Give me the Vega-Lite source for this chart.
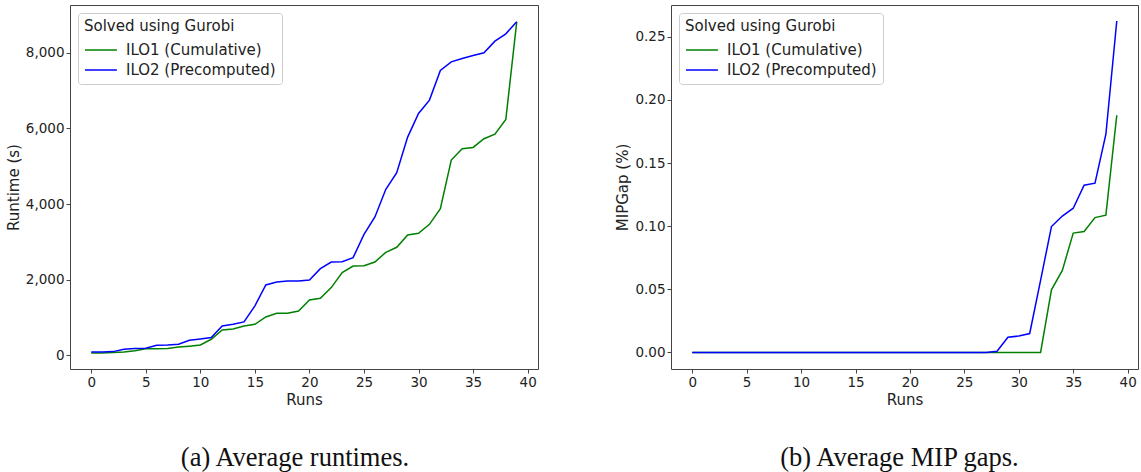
{
  "$schema": "https://vega.github.io/schema/vega-lite/v6.json",
  "autosize": {"type": "pad"},
  "padding": {"left": 5, "top": 4, "right": 0, "bottom": 0},
  "background": "white",
  "bounds": "flush",
  "spacing": 133,
  "config": {
    "font": "DejaVu Sans",
    "view": {"stroke": "#444444", "strokeWidth": 1},
    "axis": {
      "grid": false,
      "domain": false,
      "tickColor": "#444444",
      "tickSize": 4,
      "tickWidth": 1,
      "labelFont": "DejaVu Sans",
      "labelFontSize": 13.5,
      "labelColor": "#222222",
      "labelPadding": 2,
      "titleFont": "DejaVu Sans",
      "titleFontSize": 15,
      "titleFontWeight": "normal",
      "titleColor": "#222222",
      "titlePadding": 4
    },
    "legend": {
      "orient": "top-left",
      "offset": 8,
      "fillColor": "white",
      "strokeColor": "#cccccc",
      "cornerRadius": 3,
      "padding": 6,
      "titleFont": "DejaVu Sans",
      "titleFontSize": 15,
      "titleFontWeight": "normal",
      "titleColor": "#222222",
      "titlePadding": 4,
      "labelFont": "DejaVu Sans",
      "labelFontSize": 15,
      "labelColor": "#222222",
      "labelOffset": 18,
      "rowPadding": 0,
      "symbolType": "M-1,0H1.9",
      "symbolSize": 484,
      "symbolStrokeWidth": 1.5,
      "symbolFillColor": "transparent",
      "labelLimit": 400
    },
    "title": {
      "orient": "bottom",
      "anchor": "middle",
      "frame": "group",
      "font": "Liberation Serif",
      "fontSize": 26.5,
      "fontWeight": "normal",
      "color": "#111111",
      "offset": 37
    }
  },
  "data": {
    "values": [
      {"run": 0, "series": "ILO1 (Cumulative)", "runtime": 61, "mipgap": 0},
      {"run": 1, "series": "ILO1 (Cumulative)", "runtime": 61, "mipgap": 0},
      {"run": 2, "series": "ILO1 (Cumulative)", "runtime": 70, "mipgap": 0},
      {"run": 3, "series": "ILO1 (Cumulative)", "runtime": 87, "mipgap": 0},
      {"run": 4, "series": "ILO1 (Cumulative)", "runtime": 120, "mipgap": 0},
      {"run": 5, "series": "ILO1 (Cumulative)", "runtime": 170, "mipgap": 0},
      {"run": 6, "series": "ILO1 (Cumulative)", "runtime": 173, "mipgap": 0},
      {"run": 7, "series": "ILO1 (Cumulative)", "runtime": 180, "mipgap": 0},
      {"run": 8, "series": "ILO1 (Cumulative)", "runtime": 215, "mipgap": 0},
      {"run": 9, "series": "ILO1 (Cumulative)", "runtime": 240, "mipgap": 0},
      {"run": 10, "series": "ILO1 (Cumulative)", "runtime": 270, "mipgap": 0},
      {"run": 11, "series": "ILO1 (Cumulative)", "runtime": 422, "mipgap": 0},
      {"run": 12, "series": "ILO1 (Cumulative)", "runtime": 669, "mipgap": 0},
      {"run": 13, "series": "ILO1 (Cumulative)", "runtime": 695, "mipgap": 0},
      {"run": 14, "series": "ILO1 (Cumulative)", "runtime": 775, "mipgap": 0},
      {"run": 15, "series": "ILO1 (Cumulative)", "runtime": 818, "mipgap": 0},
      {"run": 16, "series": "ILO1 (Cumulative)", "runtime": 1012, "mipgap": 0},
      {"run": 17, "series": "ILO1 (Cumulative)", "runtime": 1110, "mipgap": 0},
      {"run": 18, "series": "ILO1 (Cumulative)", "runtime": 1110, "mipgap": 0},
      {"run": 19, "series": "ILO1 (Cumulative)", "runtime": 1171, "mipgap": 0},
      {"run": 20, "series": "ILO1 (Cumulative)", "runtime": 1462, "mipgap": 0},
      {"run": 21, "series": "ILO1 (Cumulative)", "runtime": 1507, "mipgap": 0},
      {"run": 22, "series": "ILO1 (Cumulative)", "runtime": 1788, "mipgap": 0},
      {"run": 23, "series": "ILO1 (Cumulative)", "runtime": 2184, "mipgap": 0},
      {"run": 24, "series": "ILO1 (Cumulative)", "runtime": 2360, "mipgap": 0},
      {"run": 25, "series": "ILO1 (Cumulative)", "runtime": 2369, "mipgap": 0},
      {"run": 26, "series": "ILO1 (Cumulative)", "runtime": 2466, "mipgap": 0},
      {"run": 27, "series": "ILO1 (Cumulative)", "runtime": 2722, "mipgap": 0},
      {"run": 28, "series": "ILO1 (Cumulative)", "runtime": 2855, "mipgap": 0},
      {"run": 29, "series": "ILO1 (Cumulative)", "runtime": 3180, "mipgap": 0},
      {"run": 30, "series": "ILO1 (Cumulative)", "runtime": 3224, "mipgap": 0},
      {"run": 31, "series": "ILO1 (Cumulative)", "runtime": 3462, "mipgap": 0},
      {"run": 32, "series": "ILO1 (Cumulative)", "runtime": 3876, "mipgap": 0},
      {"run": 33, "series": "ILO1 (Cumulative)", "runtime": 5163, "mipgap": 0.0496},
      {"run": 34, "series": "ILO1 (Cumulative)", "runtime": 5462, "mipgap": 0.065},
      {"run": 35, "series": "ILO1 (Cumulative)", "runtime": 5497, "mipgap": 0.0945},
      {"run": 36, "series": "ILO1 (Cumulative)", "runtime": 5726, "mipgap": 0.0957},
      {"run": 37, "series": "ILO1 (Cumulative)", "runtime": 5850, "mipgap": 0.1068},
      {"run": 38, "series": "ILO1 (Cumulative)", "runtime": 6238, "mipgap": 0.1087},
      {"run": 39, "series": "ILO1 (Cumulative)", "runtime": 8820, "mipgap": 0.1878},
      {"run": 0, "series": "ILO2 (Precomputed)", "runtime": 87, "mipgap": 0},
      {"run": 1, "series": "ILO2 (Precomputed)", "runtime": 87, "mipgap": 0},
      {"run": 2, "series": "ILO2 (Precomputed)", "runtime": 95, "mipgap": 0},
      {"run": 3, "series": "ILO2 (Precomputed)", "runtime": 158, "mipgap": 0},
      {"run": 4, "series": "ILO2 (Precomputed)", "runtime": 175, "mipgap": 0},
      {"run": 5, "series": "ILO2 (Precomputed)", "runtime": 185, "mipgap": 0},
      {"run": 6, "series": "ILO2 (Precomputed)", "runtime": 264, "mipgap": 0},
      {"run": 7, "series": "ILO2 (Precomputed)", "runtime": 273, "mipgap": 0},
      {"run": 8, "series": "ILO2 (Precomputed)", "runtime": 290, "mipgap": 0},
      {"run": 9, "series": "ILO2 (Precomputed)", "runtime": 396, "mipgap": 0},
      {"run": 10, "series": "ILO2 (Precomputed)", "runtime": 430, "mipgap": 0},
      {"run": 11, "series": "ILO2 (Precomputed)", "runtime": 466, "mipgap": 0},
      {"run": 12, "series": "ILO2 (Precomputed)", "runtime": 775, "mipgap": 0},
      {"run": 13, "series": "ILO2 (Precomputed)", "runtime": 818, "mipgap": 0},
      {"run": 14, "series": "ILO2 (Precomputed)", "runtime": 880, "mipgap": 0},
      {"run": 15, "series": "ILO2 (Precomputed)", "runtime": 1303, "mipgap": 0},
      {"run": 16, "series": "ILO2 (Precomputed)", "runtime": 1858, "mipgap": 0},
      {"run": 17, "series": "ILO2 (Precomputed)", "runtime": 1937, "mipgap": 0},
      {"run": 18, "series": "ILO2 (Precomputed)", "runtime": 1963, "mipgap": 0},
      {"run": 19, "series": "ILO2 (Precomputed)", "runtime": 1963, "mipgap": 0},
      {"run": 20, "series": "ILO2 (Precomputed)", "runtime": 1990, "mipgap": 0},
      {"run": 21, "series": "ILO2 (Precomputed)", "runtime": 2290, "mipgap": 0},
      {"run": 22, "series": "ILO2 (Precomputed)", "runtime": 2466, "mipgap": 0},
      {"run": 23, "series": "ILO2 (Precomputed)", "runtime": 2475, "mipgap": 0},
      {"run": 24, "series": "ILO2 (Precomputed)", "runtime": 2580, "mipgap": 0},
      {"run": 25, "series": "ILO2 (Precomputed)", "runtime": 3198, "mipgap": 0},
      {"run": 26, "series": "ILO2 (Precomputed)", "runtime": 3656, "mipgap": 0},
      {"run": 27, "series": "ILO2 (Precomputed)", "runtime": 4388, "mipgap": 0},
      {"run": 28, "series": "ILO2 (Precomputed)", "runtime": 4827, "mipgap": 0.001},
      {"run": 29, "series": "ILO2 (Precomputed)", "runtime": 5771, "mipgap": 0.012},
      {"run": 30, "series": "ILO2 (Precomputed)", "runtime": 6397, "mipgap": 0.013},
      {"run": 31, "series": "ILO2 (Precomputed)", "runtime": 6749, "mipgap": 0.015},
      {"run": 32, "series": "ILO2 (Precomputed)", "runtime": 7534, "mipgap": 0.057},
      {"run": 33, "series": "ILO2 (Precomputed)", "runtime": 7762, "mipgap": 0.0997},
      {"run": 34, "series": "ILO2 (Precomputed)", "runtime": 7851, "mipgap": 0.108},
      {"run": 35, "series": "ILO2 (Precomputed)", "runtime": 7930, "mipgap": 0.1142},
      {"run": 36, "series": "ILO2 (Precomputed)", "runtime": 8000, "mipgap": 0.1324},
      {"run": 37, "series": "ILO2 (Precomputed)", "runtime": 8308, "mipgap": 0.134},
      {"run": 38, "series": "ILO2 (Precomputed)", "runtime": 8502, "mipgap": 0.1728},
      {"run": 39, "series": "ILO2 (Precomputed)", "runtime": 8820, "mipgap": 0.2624}
    ]
  },
  "hconcat": [
    {
      "width": 468,
      "height": 364,
      "title": {"text": "(a) Average runtimes.", "dx": -9},
      "mark": {"type": "line", "strokeWidth": 1.5},
      "encoding": {
        "x": {
          "field": "run", "type": "quantitative", "title": "Runs",
          "scale": {"domain": [-1.95, 40.95], "nice": false, "zero": false},
          "axis": {"values": [0, 5, 10, 15, 20, 25, 30, 35, 40], "format": "d"}
        },
        "y": {
          "field": "runtime", "type": "quantitative", "title": "Runtime (s)",
          "scale": {"domain": [-365, 9265], "nice": false, "zero": false},
          "axis": {"values": [0, 2000, 4000, 6000, 8000], "format": ",d"}
        },
        "color": {
          "field": "series", "type": "nominal", "title": "Solved using Gurobi",
          "scale": {"domain": ["ILO1 (Cumulative)", "ILO2 (Precomputed)"], "range": ["#008000", "#0000ff"]}
        }
      }
    },
    {
      "width": 467,
      "height": 364,
      "title": {"text": "(b) Average MIP gaps.", "dx": -5},
      "mark": {"type": "line", "strokeWidth": 1.5},
      "encoding": {
        "x": {
          "field": "run", "type": "quantitative", "title": "Runs",
          "scale": {"domain": [-1.95, 40.95], "nice": false, "zero": false},
          "axis": {"values": [0, 5, 10, 15, 20, 25, 30, 35, 40], "format": "d"}
        },
        "y": {
          "field": "mipgap", "type": "quantitative", "title": "MIPGap (%)",
          "scale": {"domain": [-0.0131, 0.2751], "nice": false, "zero": false},
          "axis": {"values": [0, 0.05, 0.1, 0.15, 0.2, 0.25], "format": ".2f"}
        },
        "color": {
          "field": "series", "type": "nominal", "title": "Solved using Gurobi",
          "scale": {"domain": ["ILO1 (Cumulative)", "ILO2 (Precomputed)"], "range": ["#008000", "#0000ff"]}
        }
      }
    }
  ],
  "resolve": {"scale": {"y": "independent", "color": "independent"}, "legend": {"color": "independent"}}
}
